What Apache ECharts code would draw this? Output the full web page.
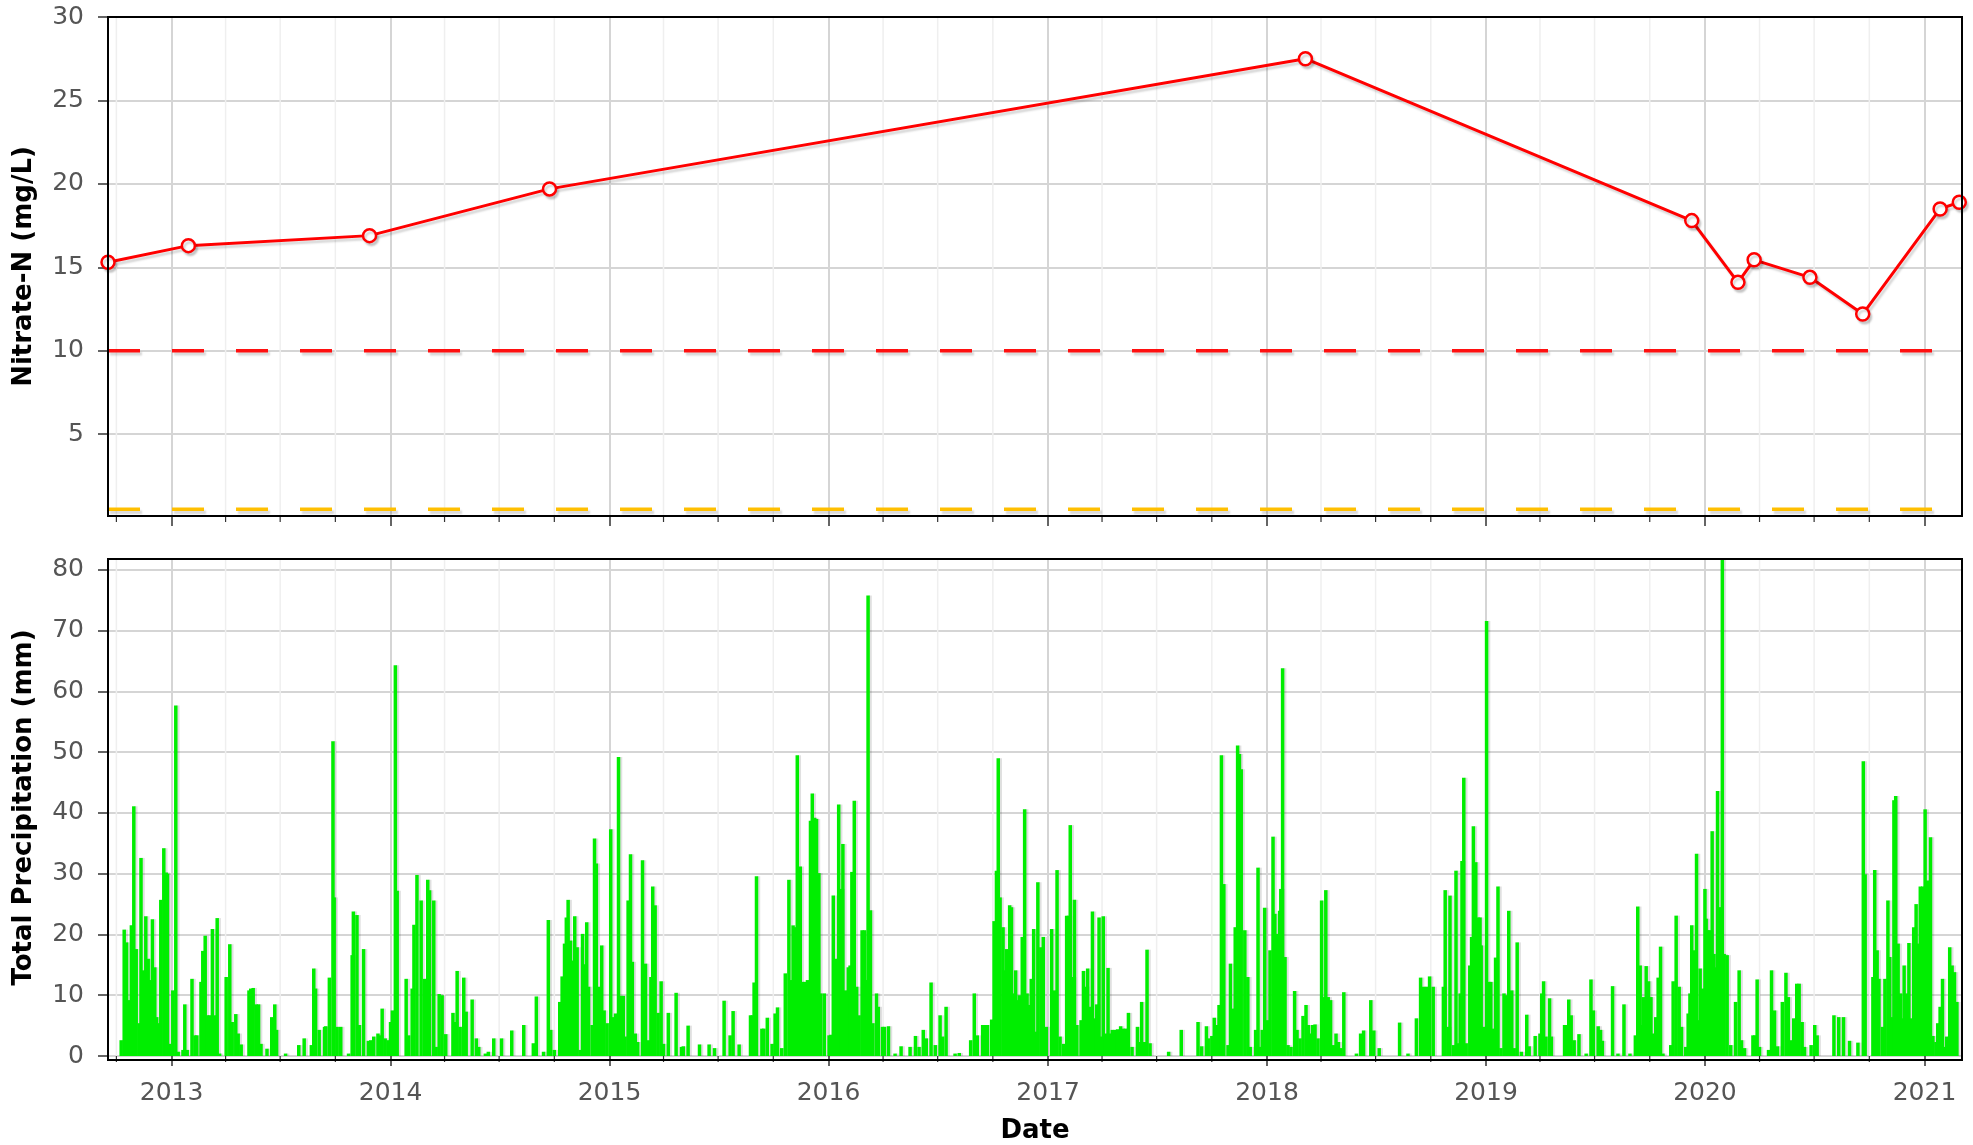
<!DOCTYPE html>
<html><head><meta charset="utf-8">
<script src="https://cdn.jsdelivr.net/npm/echarts@6.0.0/dist/echarts.min.js"></script>
<style>html,body{margin:0;padding:0;background:#fff}#chart{width:1973px;height:1145px}</style>
</head><body><div id="chart"></div>
<script>
// ---------------- data ----------------
const nitrateDates = ['2012-09-17','2013-01-29','2013-11-27','2014-09-23','2018-03-06','2019-12-10','2020-02-25','2020-03-23','2020-06-24','2020-09-20','2021-01-27','2021-02-28'];
const nitrateValues = [15.3, 16.3, 16.9, 19.7, 27.5, 17.8, 14.1, 15.45, 14.4, 12.2, 18.5, 18.9];
const nitrateLimit = 10;      // red dashed reference
const lowerReference = 0.5;   // yellow dashed reference
const nitrateTicks = [5, 10, 15, 20, 25, 30];
const precipTicks = [0, 10, 20, 30, 40, 50, 60, 70, 80];
const yearTicks = [2013, 2014, 2015, 2016, 2017, 2018, 2019, 2020, 2021];

const precip2012 = [['2012-10-09',2.6],['2012-10-14',20.8],['2012-10-18',18.7],['2012-10-22',9.2],['2012-10-26',21.5],['2012-10-30',41.1],['2012-11-03',17.6],['2012-11-08',5.4],['2012-11-11',32.6],['2012-11-15',14.1],['2012-11-19',23.0],['2012-11-23',16.0],['2012-11-26',12.5],['2012-11-30',22.5],['2012-12-04',14.6],['2012-12-07',6.4],['2012-12-10',5.4],['2012-12-14',25.7],['2012-12-19',34.2],['2012-12-23',30.2],['2012-12-25',30.0],['2012-12-29',2.0]];
const precip2013 = [['2013-01-03',10.8],['2013-01-08',57.7],['2013-01-12',0.7],['2013-01-20',1.0],['2013-01-23',8.5],['2013-01-27',1.0],['2013-02-04',12.7],['2013-02-09',3.4],['2013-02-12',3.4],['2013-02-19',12.2],['2013-02-22',17.3],['2013-02-26',19.8],['2013-03-02',6.7],['2013-03-05',6.7],['2013-03-10',20.9],['2013-03-14',6.7],['2013-03-18',22.7],['2013-03-22',0.4],['2013-04-02',13.0],['2013-04-08',18.4],['2013-04-12',5.6],['2013-04-18',6.9],['2013-04-22',3.7],['2013-04-27',1.9],['2013-05-10',10.8],['2013-05-13',11.1],['2013-05-17',11.2],['2013-05-22',8.5],['2013-05-26',8.5],['2013-05-30',2.0],['2013-06-09',1.2],['2013-06-17',6.4],['2013-06-22',8.5],['2013-06-25',4.3],['2013-07-10',0.4],['2013-08-01',1.8],['2013-08-10',2.9],['2013-08-22',1.8],['2013-08-26',14.4],['2013-08-29',11.1],['2013-09-04',4.3],['2013-09-13',4.8],['2013-09-15',4.9],['2013-09-21',12.9],['2013-09-27',51.8],['2013-09-29',26.1],['2013-10-04',4.8],['2013-10-10',4.8],['2013-10-23',0.4],['2013-10-29',16.6],['2013-10-31',23.8],['2013-11-06',23.2],['2013-11-10',5.1],['2013-11-17',17.6],['2013-11-25',2.5],['2013-11-29',2.6],['2013-12-04',3.2],['2013-12-11',3.7],['2013-12-15',3.4],['2013-12-18',7.8],['2013-12-23',2.9],['2013-12-28',2.6]];
const precip2014 = [['2014-01-01',5.6],['2014-01-04',7.5],['2014-01-09',64.3],['2014-01-12',27.2],['2014-01-27',12.7],['2014-01-31',3.4],['2014-02-06',11.1],['2014-02-09',21.6],['2014-02-14',29.8],['2014-02-21',25.6],['2014-02-27',12.7],['2014-03-04',29.0],['2014-03-07',27.3],['2014-03-14',25.6],['2014-03-18',1.5],['2014-03-23',10.2],['2014-03-28',10.0],['2014-04-03',3.6],['2014-04-15',7.1],['2014-04-19',5.6],['2014-04-22',14.0],['2014-04-27',4.8],['2014-05-03',12.9],['2014-05-07',7.3],['2014-05-17',9.3],['2014-05-24',2.9],['2014-05-28',1.5],['2014-06-08',0.4],['2014-06-13',0.7],['2014-06-22',2.9],['2014-07-05',2.9],['2014-07-22',4.2],['2014-08-11',5.1],['2014-08-27',2.1],['2014-09-01',9.8],['2014-09-13',0.7],['2014-09-21',22.4],['2014-09-25',4.3],['2014-10-01',1.0],['2014-10-10',8.9],['2014-10-14',13.1],['2014-10-18',18.5],['2014-10-21',22.8],['2014-10-24',25.7],['2014-10-28',19.0],['2014-10-31',15.7],['2014-11-04',23.0],['2014-11-08',17.9],['2014-11-13',1.0],['2014-11-17',20.1],['2014-11-20',15.1],['2014-11-24',22.0],['2014-11-27',11.4],['2014-12-03',5.1],['2014-12-07',35.8],['2014-12-10',31.7],['2014-12-15',11.4],['2014-12-19',18.2],['2014-12-23',7.5],['2014-12-28',5.4]];
const precip2015 = [['2015-01-03',37.3],['2015-01-07',6.4],['2015-01-11',7.0],['2015-01-16',49.2],['2015-01-20',9.9],['2015-01-24',9.9],['2015-01-27',3.2],['2015-02-01',25.6],['2015-02-05',33.2],['2015-02-08',15.5],['2015-02-13',3.7],['2015-02-17',2.3],['2015-02-25',32.2],['2015-03-02',15.2],['2015-03-07',2.6],['2015-03-11',13.0],['2015-03-14',27.9],['2015-03-18',24.8],['2015-03-23',7.1],['2015-03-28',12.3],['2015-04-01',2.0],['2015-04-09',7.1],['2015-04-22',10.4],['2015-05-01',1.5],['2015-05-04',1.6],['2015-05-12',5.0],['2015-05-31',1.9],['2015-06-16',1.9],['2015-06-25',1.3],['2015-07-11',9.1],['2015-07-21',3.4],['2015-07-26',7.4],['2015-08-05',1.9],['2015-08-24',6.7],['2015-08-27',6.7],['2015-08-30',12.1],['2015-09-03',29.6],['2015-09-12',4.5],['2015-09-15',4.5],['2015-09-21',6.3],['2015-09-29',2.0],['2015-10-04',7.0],['2015-10-08',8.0],['2015-10-15',1.3],['2015-10-21',13.6],['2015-10-27',29.0],['2015-10-30',12.5],['2015-11-03',21.5],['2015-11-06',21.2],['2015-11-10',49.5],['2015-11-15',31.2],['2015-11-19',12.2],['2015-11-23',12.2],['2015-11-27',12.5],['2015-12-02',38.7],['2015-12-05',43.2],['2015-12-09',39.2],['2015-12-12',39.0],['2015-12-16',30.1],['2015-12-19',10.3],['2015-12-25',10.3]];
const precip2016 = [['2016-01-02',3.4],['2016-01-05',3.5],['2016-01-09',26.4],['2016-01-13',16.0],['2016-01-18',41.4],['2016-01-22',27.5],['2016-01-25',34.9],['2016-01-29',10.8],['2016-02-03',14.6],['2016-02-06',14.9],['2016-02-09',30.3],['2016-02-13',42.0],['2016-02-17',11.4],['2016-02-21',6.7],['2016-02-26',20.7],['2016-03-01',20.7],['2016-03-03',12.5],['2016-03-07',75.8],['2016-03-11',24.0],['2016-03-15',5.4],['2016-03-21',10.3],['2016-03-24',8.1],['2016-03-31',4.8],['2016-04-03',4.8],['2016-04-10',4.9],['2016-04-21',0.4],['2016-05-01',1.6],['2016-05-16',1.5],['2016-05-25',3.3],['2016-05-31',1.5],['2016-06-07',4.3],['2016-06-12',2.9],['2016-06-20',12.1],['2016-06-27',1.8],['2016-07-05',6.7],['2016-07-09',3.2],['2016-07-15',8.1],['2016-07-30',0.4],['2016-08-06',0.5],['2016-08-25',2.6],['2016-08-31',10.3],['2016-09-05',3.4],['2016-09-14',5.1],['2016-09-18',5.1],['2016-09-22',5.1],['2016-09-29',6.0],['2016-10-03',22.2],['2016-10-07',30.5],['2016-10-10',49.0],['2016-10-13',26.1],['2016-10-18',21.2],['2016-10-21',14.1],['2016-10-24',17.6],['2016-10-29',24.8],['2016-11-01',24.5],['2016-11-04',10.3],['2016-11-08',14.1],['2016-11-11',9.2],['2016-11-14',10.0],['2016-11-19',19.6],['2016-11-23',40.6],['2016-11-27',10.3],['2016-12-01',8.4],['2016-12-04',12.7],['2016-12-08',20.9],['2016-12-12',4.0],['2016-12-15',28.6],['2016-12-20',17.9],['2016-12-24',19.6],['2016-12-29',4.8]];
const precip2017 = [['2017-01-07',20.9],['2017-01-12',10.8],['2017-01-16',30.6],['2017-01-21',3.2],['2017-01-27',2.0],['2017-02-01',23.1],['2017-02-04',23.1],['2017-02-07',38.0],['2017-02-11',13.0],['2017-02-14',25.7],['2017-02-18',5.1],['2017-02-25',5.9],['2017-03-01',14.0],['2017-03-05',11.4],['2017-03-08',14.4],['2017-03-12',8.1],['2017-03-16',23.8],['2017-03-20',6.2],['2017-03-23',8.5],['2017-03-27',22.8],['2017-03-30',3.2],['2017-04-03',23.0],['2017-04-07',3.7],['2017-04-11',14.5],['2017-04-14',3.7],['2017-04-18',4.3],['2017-04-23',4.3],['2017-04-27',4.4],['2017-05-02',4.9],['2017-05-06',4.5],['2017-05-10',4.5],['2017-05-15',7.1],['2017-05-21',1.5],['2017-05-30',4.8],['2017-06-02',2.3],['2017-06-06',8.9],['2017-06-11',2.3],['2017-06-15',17.5],['2017-06-20',2.1],['2017-07-21',0.7],['2017-08-11',4.3],['2017-09-08',5.6],['2017-09-14',1.6],['2017-09-22',4.9],['2017-09-25',2.9],['2017-10-01',3.3],['2017-10-05',6.3],['2017-10-09',5.1],['2017-10-13',8.4],['2017-10-17',49.5],['2017-10-21',28.3],['2017-10-28',1.8],['2017-11-01',15.2],['2017-11-05',7.8],['2017-11-09',21.2],['2017-11-13',51.1],['2017-11-16',49.7],['2017-11-19',47.2],['2017-11-25',20.7],['2017-11-30',13.0],['2017-12-04',1.5],['2017-12-13',4.3],['2017-12-17',31.0],['2017-12-21',1.5],['2017-12-24',4.3],['2017-12-28',24.4]];
const precip2018 = [['2018-01-02',5.9],['2018-01-06',17.4],['2018-01-11',36.1],['2018-01-14',23.4],['2018-01-18',20.1],['2018-01-22',23.9],['2018-01-24',27.5],['2018-01-27',63.8],['2018-01-31',16.3],['2018-02-05',1.8],['2018-02-10',1.5],['2018-02-16',10.7],['2018-02-20',4.3],['2018-02-25',2.9],['2018-03-02',6.6],['2018-03-07',8.4],['2018-03-11',5.1],['2018-03-14',3.7],['2018-03-18',5.1],['2018-03-22',5.2],['2018-03-27',2.9],['2018-04-02',25.6],['2018-04-06',9.7],['2018-04-09',27.3],['2018-04-13',9.7],['2018-04-17',9.2],['2018-04-22',1.8],['2018-04-26',3.7],['2018-04-30',2.3],['2018-05-04',1.3],['2018-05-09',10.5],['2018-05-30',0.4],['2018-06-06',3.7],['2018-06-11',4.2],['2018-06-23',9.2],['2018-06-28',4.2],['2018-07-07',1.3],['2018-08-10',5.5],['2018-08-24',0.4],['2018-09-07',6.2],['2018-09-14',12.9],['2018-09-19',11.4],['2018-09-24',11.4],['2018-09-29',13.1],['2018-10-05',11.4],['2018-10-22',11.4],['2018-10-25',27.3],['2018-10-30',4.8],['2018-11-02',26.4],['2018-11-08',1.8],['2018-11-12',30.5],['2018-11-15',2.1],['2018-11-19',10.3],['2018-11-22',32.1],['2018-11-25',45.8],['2018-11-29',2.1],['2018-12-05',14.9],['2018-12-08',19.6],['2018-12-11',37.8],['2018-12-15',31.9],['2018-12-19',22.8],['2018-12-22',22.8],['2018-12-24',18.2],['2018-12-28',4.8]];
const precip2019 = [['2019-01-02',71.6],['2019-01-06',12.2],['2019-01-09',12.2],['2019-01-13',4.5],['2019-01-17',16.2],['2019-01-21',27.9],['2019-01-26',1.3],['2019-01-31',10.3],['2019-02-03',10.0],['2019-02-08',23.9],['2019-02-13',10.8],['2019-02-17',1.3],['2019-02-22',18.7],['2019-03-01',0.7],['2019-03-10',6.8],['2019-03-14',1.6],['2019-03-24',3.3],['2019-04-01',3.7],['2019-04-04',10.3],['2019-04-07',12.3],['2019-04-11',3.2],['2019-04-17',9.5],['2019-04-20',3.2],['2019-05-12',5.1],['2019-05-15',5.1],['2019-05-19',9.3],['2019-05-23',6.7],['2019-05-28',2.6],['2019-06-05',3.6],['2019-06-17',0.4],['2019-06-25',12.6],['2019-06-29',7.5],['2019-07-07',4.9],['2019-07-11',4.3],['2019-07-14',2.5],['2019-07-31',11.5],['2019-08-09',0.4],['2019-08-19',8.5],['2019-08-29',0.4],['2019-09-07',3.4],['2019-09-11',24.6],['2019-09-15',14.9],['2019-09-19',5.1],['2019-09-21',9.7],['2019-09-25',14.8],['2019-09-29',12.3],['2019-10-03',9.7],['2019-10-06',3.7],['2019-10-11',6.4],['2019-10-15',12.9],['2019-10-19',18.0],['2019-10-23',0.4],['2019-11-05',1.8],['2019-11-09',12.3],['2019-11-14',23.1],['2019-11-19',11.4],['2019-11-23',4.8],['2019-11-30',1.5],['2019-12-04',7.0],['2019-12-07',10.3],['2019-12-10',21.5],['2019-12-14',17.4],['2019-12-18',33.3],['2019-12-21',5.9],['2019-12-24',14.4],['2019-12-28',11.1]];
const precip2020 = [['2020-01-01',27.5],['2020-01-03',22.6],['2020-01-06',20.7],['2020-01-09',20.7],['2020-01-13',37.0],['2020-01-16',16.8],['2020-01-19',14.6],['2020-01-22',43.6],['2020-01-26',24.5],['2020-01-30',86.0],['2020-02-02',16.8],['2020-02-07',16.6],['2020-02-13',1.8],['2020-02-21',8.9],['2020-02-27',14.1],['2020-03-02',2.6],['2020-03-07',1.3],['2020-03-21',3.4],['2020-03-24',3.4],['2020-03-28',12.6],['2020-04-01',1.5],['2020-04-16',1.0],['2020-04-21',14.1],['2020-04-26',7.5],['2020-05-01',1.6],['2020-05-09',8.9],['2020-05-15',13.7],['2020-05-19',9.7],['2020-05-24',2.6],['2020-05-28',6.2],['2020-06-02',11.9],['2020-06-06',11.9],['2020-06-11',5.6],['2020-06-15',1.5],['2020-06-26',1.8],['2020-07-02',5.1],['2020-07-06',3.4],['2020-08-03',6.7],['2020-08-11',6.4],['2020-08-19',6.4],['2020-08-29',2.5],['2020-09-12',2.2],['2020-09-21',48.5],['2020-09-24',29.9],['2020-10-07',13.0],['2020-10-10',30.6],['2020-10-14',17.4],['2020-10-17',12.7],['2020-10-23',4.8],['2020-10-27',12.7],['2020-11-01',25.6],['2020-11-04',16.3],['2020-11-08',6.4],['2020-11-11',42.1],['2020-11-14',42.8],['2020-11-18',18.5],['2020-11-22',10.3],['2020-11-26',6.2],['2020-11-28',14.9],['2020-12-02',10.3],['2020-12-06',18.6],['2020-12-10',6.2],['2020-12-14',21.2],['2020-12-18',25.0],['2020-12-22',18.5],['2020-12-25',27.9],['2020-12-29',27.9]];
const precip2021 = [['2021-01-02',40.6],['2021-01-06',28.9],['2021-01-11',36.0],['2021-01-15',3.3],['2021-01-20',2.3],['2021-01-23',5.4],['2021-01-27',8.1],['2021-01-31',12.7],['2021-02-05',1.5],['2021-02-07',3.2],['2021-02-12',17.9],['2021-02-16',14.9],['2021-02-20',13.8],['2021-02-24',8.9]];

// ---------------- derived ----------------
const toTs = s => { const p = s.split('-').map(Number); return Date.UTC(p[0], p[1] - 1, p[2]); };
const X_MIN = Date.UTC(2012, 8, 17);
const X_MAX = Date.UTC(2021, 2, 4, 12);
const Y1_MIN = 0.1, Y1_MAX = 30;
const Y2_MIN = 0, Y2_MAX = 81.8;

const nitrateData = nitrateDates.map((d, i) => [toTs(d), nitrateValues[i]]);
const precipData = [].concat(precip2012, precip2013, precip2014, precip2015, precip2016, precip2017, precip2018, precip2019, precip2020, precip2021).map(r => [toTs(r[0]), r[1]]);
const yearTs = yearTicks.map(y => Date.UTC(y, 0, 1));
const quarterTs = [];
for (let y = 2012; y <= 2021; y++) for (const m of [3, 6, 9]) { const t = Date.UTC(y, m, 1); if (t > X_MIN && t < X_MAX) quarterTs.push(t); }

// ---------------- layout / style ----------------
const FONT = 'DejaVu Sans';
const grids = [
  { left: 108, top: 17, width: 1854, height: 499 },
  { left: 108, top: 559, width: 1854, height: 501 }
];
const GRID_COLOR = '#d5d5d5';
const TICK_COLOR = '#333';
const LABEL_COLOR = '#555';
const SHADOW = { shadowColor: 'rgba(0,0,0,0.16)', shadowBlur: 2, shadowOffsetX: 2, shadowOffsetY: 3 };

function xAxisCfg(gridIndex, withLabels) {
  return {
    type: 'value', gridIndex, min: X_MIN, max: X_MAX, scale: true,
    axisLine: { show: false },
    axisTick: { show: true, customValues: yearTs, length: 10, lineStyle: { color: TICK_COLOR, width: 1.5 } },
    axisLabel: { show: withLabels, customValues: yearTs, formatter: v => String(new Date(v).getUTCFullYear()),
      color: LABEL_COLOR, fontSize: 25, fontFamily: FONT, margin: 25 },
    splitLine: { show: true, lineStyle: { color: GRID_COLOR, width: 2 } },
    name: withLabels ? 'Date' : '', nameLocation: 'middle', nameGap: 62,
    nameTextStyle: { fontFamily: FONT, fontSize: 26, fontWeight: 'bold', color: '#000' }
  };
}
function yAxisCfg(gridIndex, min, max, ticks, name) {
  return {
    type: 'value', gridIndex, min, max,
    axisLine: { show: false },
    axisTick: { show: true, customValues: ticks, length: 10, lineStyle: { color: TICK_COLOR, width: 1.5 } },
    axisLabel: { customValues: ticks, color: LABEL_COLOR, fontSize: 25, fontFamily: FONT, margin: 24 },
    splitLine: { show: true, lineStyle: { color: GRID_COLOR, width: 2 } },
    name, nameLocation: 'middle', nameGap: 71, nameRotate: 90,
    nameTextStyle: { fontFamily: FONT, fontSize: 26, fontWeight: 'bold', color: '#000' }
  };
}
function minorSeries(idx, yMin, yMax) {
  return {
    type: 'custom', xAxisIndex: idx, yAxisIndex: idx, z: 1, silent: true, clip: false,
    data: quarterTs.map(t => [t, yMin]),
    renderItem: (params, api) => {
      const x = api.value(0);
      const b = api.coord([x, yMin]);
      const t = api.coord([x, yMax]);
      return { type: 'group', children: [
        { type: 'line', shape: { x1: b[0], y1: t[1], x2: b[0], y2: b[1] }, style: { stroke: '#efefef', lineWidth: 1.5 } },
        { type: 'line', shape: { x1: b[0], y1: b[1], x2: b[0], y2: b[1] + 6 }, style: { stroke: TICK_COLOR, lineWidth: 1.2 } }
      ]};
    }
  };
}

const chart = echarts.init(document.getElementById('chart'), null, { renderer: 'canvas' });
chart.setOption({
  animation: false,
  backgroundColor: '#fff',
  textStyle: { fontFamily: FONT },
  grid: grids,
  xAxis: [xAxisCfg(0, false), xAxisCfg(1, true)],
  yAxis: [
    yAxisCfg(0, Y1_MIN, Y1_MAX, nitrateTicks, 'Nitrate-N (mg/L)'),
    yAxisCfg(1, Y2_MIN, Y2_MAX, precipTicks, 'Total Precipitation (mm)')
  ],
  series: [
    minorSeries(0, Y1_MIN, Y1_MAX),
    {
      type: 'line', xAxisIndex: 0, yAxisIndex: 0, z: 3, silent: true, symbol: 'none',
      data: [[X_MIN, nitrateLimit], [X_MAX, nitrateLimit]],
      lineStyle: Object.assign({ color: '#ff1010', width: 3.5, type: [32, 32] }, SHADOW)
    },
    {
      type: 'line', xAxisIndex: 0, yAxisIndex: 0, z: 3, silent: true, symbol: 'none',
      data: [[X_MIN, lowerReference], [X_MAX, lowerReference]],
      lineStyle: Object.assign({ color: '#ffbf00', width: 3.5, type: [32, 32] }, SHADOW)
    },
    {
      type: 'line', xAxisIndex: 0, yAxisIndex: 0, z: 5, silent: true,
      data: nitrateData, symbol: 'circle', symbolSize: 13, showAllSymbol: true,
      color: '#ff0000',
      lineStyle: Object.assign({ color: '#ff0000', width: 3 }, SHADOW),
      itemStyle: Object.assign({ color: '#ffffff', borderColor: '#ff0000', borderWidth: 2.5 }, SHADOW)
    },
    minorSeries(1, Y2_MIN, Y2_MAX),
    {
      type: 'bar', xAxisIndex: 1, yAxisIndex: 1, z: 3, silent: true,
      data: precipData, barWidth: 3.5,
      itemStyle: { color: '#00ee00', shadowColor: 'rgba(0,0,0,0.12)', shadowBlur: 0, shadowOffsetX: 2, shadowOffsetY: 0 }
    }
  ],
  graphic: grids.map(g => ({
    type: 'rect', silent: true, z: 100,
    shape: { x: g.left, y: g.top, width: g.width, height: g.height },
    style: { fill: 'none', stroke: '#000', lineWidth: 2 }
  }))
});
</script>
</body></html>
